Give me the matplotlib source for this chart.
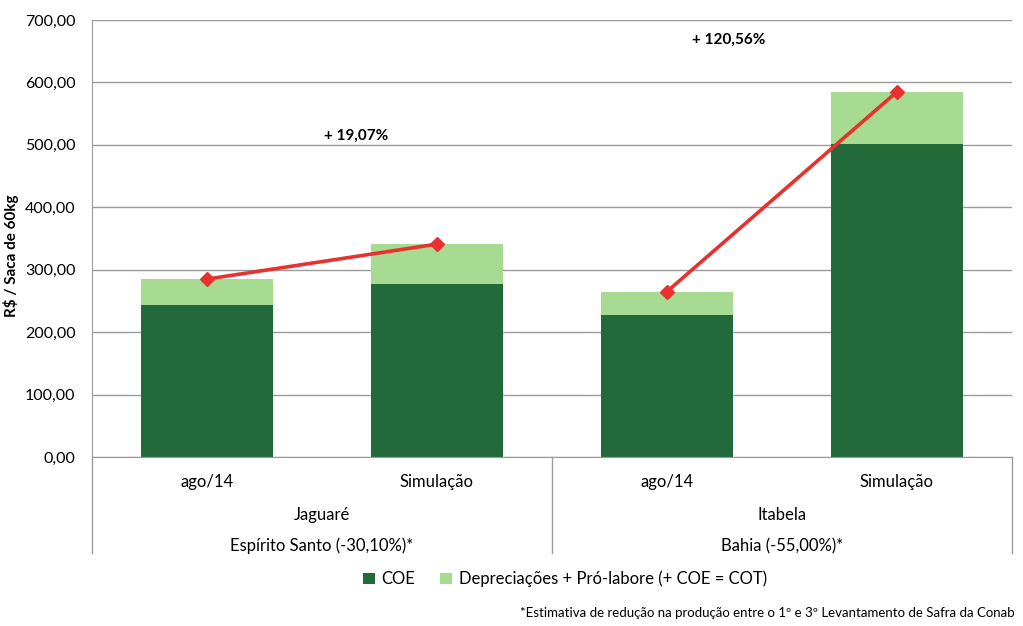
import numpy as np
import matplotlib.pyplot as plt

plt.rcParams['font.family'] = ['Lato', 'DejaVu Sans']

# data
periods = ['ago/14', 'Simulação', 'ago/14', 'Simulação']
cities = ['Jaguaré', 'Itabela']
states = ['Espírito Santo (-30,10%)*', 'Bahia (-55,00%)*']
coe = [243.0, 277.0, 227.0, 502.0]
cot = [285.0, 341.0, 265.0, 585.0]
variation = ['+ 19,07%', '+ 120,56%']

dep = [t - c for t, c in zip(cot, coe)]

W, H = 1023, 626
fig = plt.figure(figsize=(W / 100, H / 100), dpi=100)
ax_l, ax_r, ax_t, ax_b = 92, 1012, 20, 457
ax = fig.add_axes([ax_l / W, 1 - ax_b / H, (ax_r - ax_l) / W, (ax_b - ax_t) / H])

dark = '#236a3b'
light = '#a6db91'
red = '#e8312f'
grid_c = '#9a9a9a'

x = np.arange(len(periods))
ax.bar(x, coe, width=0.57, color=dark, label='COE', zorder=2)
ax.bar(x, dep, width=0.57, bottom=coe, color=light,
       label='Depreciações + Pró-labore (+ COE = COT)', zorder=2)

# total cost line, one segment per city
for g in range(2):
    xs = x[2 * g:2 * g + 2]
    ys = cot[2 * g:2 * g + 2]
    ax.plot(xs, ys, color=red, lw=2.6, marker='D', ms=7, zorder=3)

ax.set_xlim(-0.5, 3.5)
ax.set_ylim(0, 700)
ax.set_yticks(np.arange(0, 701, 100))
ax.set_yticklabels([f'{v:.2f}'.replace('.', ',') for v in np.arange(0, 701, 100)],
                   fontsize=11.5)
ax.yaxis.grid(True, color=grid_c, lw=1)
ax.set_axisbelow(True)
ax.tick_params(axis='y', length=0, pad=12)
ax.set_xticks([])
for s in ['top', 'right']:
    ax.spines[s].set_visible(False)
ax.spines['left'].set_color(grid_c)
ax.spines['bottom'].set_color(grid_c)
ax.set_ylabel('R$ / Saca de 60kg', fontsize=11, fontweight='bold')
ax.yaxis.set_label_coords(-(ax_l - 19) / (ax_r - ax_l), 0.46)

# percentage labels
ax.text(0.65, 515, variation[0], ha='center', va='center', fontsize=11, fontweight='bold')
ax.text(2.27, 668, variation[1], ha='center', va='center', fontsize=11, fontweight='bold')

# category axis below the plot
trans = ax.get_xaxis_transform()
ph = ax_b - ax_t
def below(px):
    return -(px - ax_b) / ph

for i, p in enumerate(periods):
    ax.text(x[i], below(482), p, transform=trans, ha='center', va='center', fontsize=12)
for g in range(2):
    ax.text(2 * g + 0.5, below(515), cities[g], transform=trans, ha='center', va='center', fontsize=12)
    ax.text(2 * g + 0.5, below(546), states[g], transform=trans, ha='center', va='center', fontsize=12)
for xv in [-0.5, 1.5, 3.5]:
    ax.plot([xv, xv], [0, below(553)], transform=trans, color=grid_c, lw=1, clip_on=False)

fig.legend(loc='center', bbox_to_anchor=(565 / W, 1 - 579 / H), ncol=2, frameon=False,
           fontsize=12, handlelength=0.7, handleheight=0.7, handletextpad=0.4,
           columnspacing=1.5)

fig.text(1015 / W, 1 - 613 / H,
         '*Estimativa de redução na produção entre o 1º e 3º Levantamento de Safra da Conab',
         ha='right', va='center', fontsize=9.5)

fig.savefig('out.png', dpi=100)
